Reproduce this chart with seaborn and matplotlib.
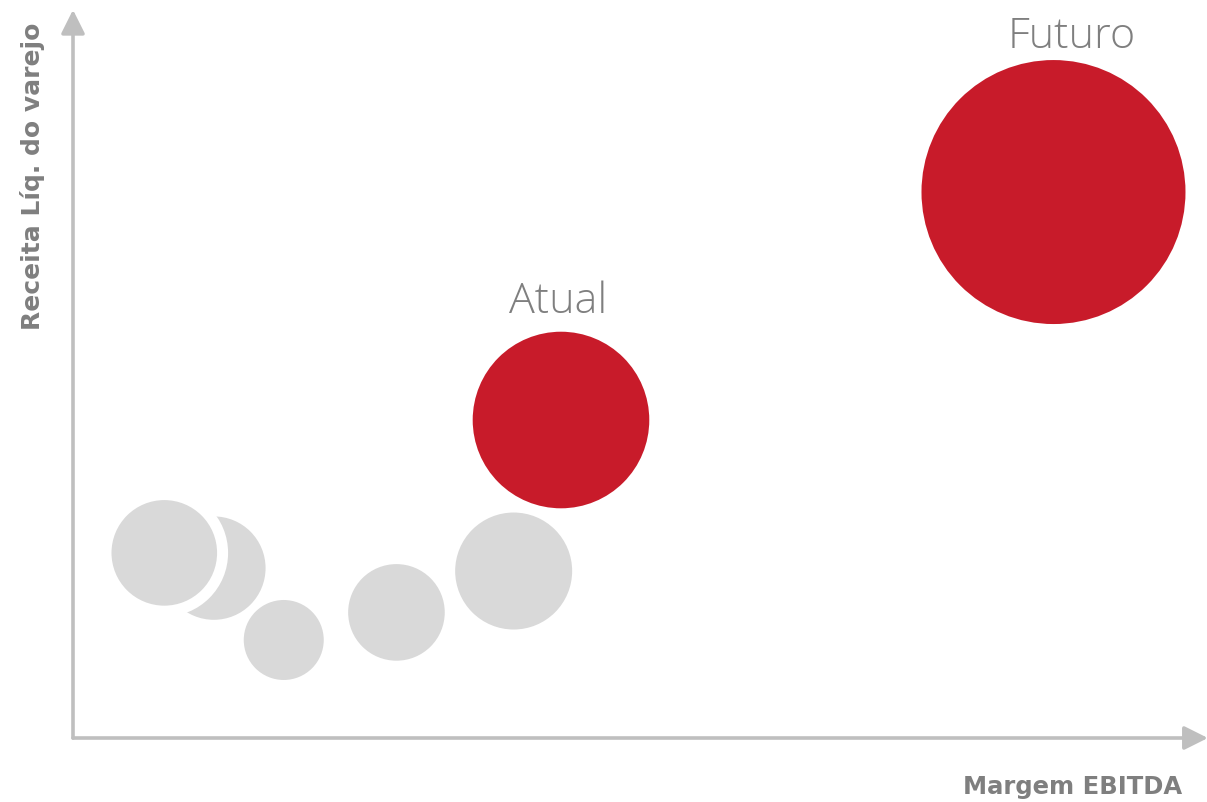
import matplotlib
matplotlib.use("Agg")
import matplotlib.pyplot as plt
import seaborn as sns
import pandas as pd

# Bubble data: EBITDA margin (x), net retail revenue (y), bubble scale
fase = ["hist", "hist", "hist", "hist", "hist", "Atual", "Futuro"]
margem_ebitda = [12.5, 8.1, 18.7, 28.7, 39.1, 43.3, 87.0]
receita_liq = [23.4, 25.5, 13.5, 17.3, 23.0, 43.8, 75.2]
porte = [51.7, 52.8, 40.0, 48.3, 58.5, 88.3, 132.0]

DPI = 100
PX2PT = 72 / DPI
# white outline (pixels) on the bubble that sits over its neighbour
contorno_px = [0, 11, 0, 0, 0, 0, 0]

sns.set_theme(style="white")
plt.rcParams["font.family"] = ["Open Sans", "DejaVu Sans"]

df = pd.DataFrame({
    "fase": fase,
    "margem": margem_ebitda,
    "receita": receita_liq,
    "porte": porte,
})
df["grupo"] = ["destaque" if f != "hist" else "historico" for f in df["fase"]]
# marker area in points^2 from the bubble scale (outline drawn outside the fill)
df["area"] = [(2 * (r + c / 2) * PX2PT) ** 2 for r, c in zip(df["porte"], contorno_px)]

fig = plt.figure(figsize=(12.07, 8.02), dpi=DPI)
W, H = 1207, 802
x0, x1, y0, y1 = 73, 1200, 738, 12
ax = fig.add_axes([x0 / W, (H - y0) / H, (x1 - x0) / W, (y0 - y1) / H])

sns.scatterplot(
    data=df, x="margem", y="receita",
    hue="grupo", palette={"historico": "#D9D9D9", "destaque": "#C81B2A"},
    size="area", sizes={a: a for a in df["area"]},
    edgecolor="white", linewidth=[c * PX2PT for c in contorno_px],
    legend=False, ax=ax, clip_on=False,
)

ax.set_xlim(0, 100)
ax.set_ylim(0, 100)
ax.set_xticks([])
ax.set_yticks([])
ax.set_xlabel("")
ax.set_ylabel("")
for s in ax.spines.values():
    s.set_visible(False)
ax.patch.set_alpha(0)

axis_col = "#BFBFBF"
arrow = dict(arrowstyle="-|>,head_length=0.9,head_width=0.45", color=axis_col,
             lw=2.6, shrinkA=0, shrinkB=0, mutation_scale=16)
ax.annotate("", xy=(1.007, 0), xytext=(0, 0), xycoords="axes fraction",
            arrowprops=arrow, annotation_clip=False)
ax.annotate("", xy=(0, 1.003), xytext=(0, 0), xycoords="axes fraction",
            arrowprops=arrow, annotation_clip=False)

lbl_col = "#7F7F7F"
ax.text(43.05, 58.6, "Atual", ha="center", va="baseline", fontsize=31,
        color=lbl_col, fontweight=300)
ax.text(88.6, 95.1, "Futuro", ha="center", va="baseline", fontsize=31,
        color=lbl_col, fontweight=300)

bold_font = ["DejaVu Sans"]
fig.text(1182 / W, (H - 794) / H, "Margem EBITDA", ha="right", va="baseline",
         fontsize=17.5, fontweight="bold", color=lbl_col, family=bold_font)
fig.text(33 / W, (H - 176) / H, "Receita Líq. do varejo", rotation=90,
         ha="center", va="center", fontsize=18, fontweight="bold", color=lbl_col,
         family=bold_font)

fig.savefig("out.png", dpi=DPI)
